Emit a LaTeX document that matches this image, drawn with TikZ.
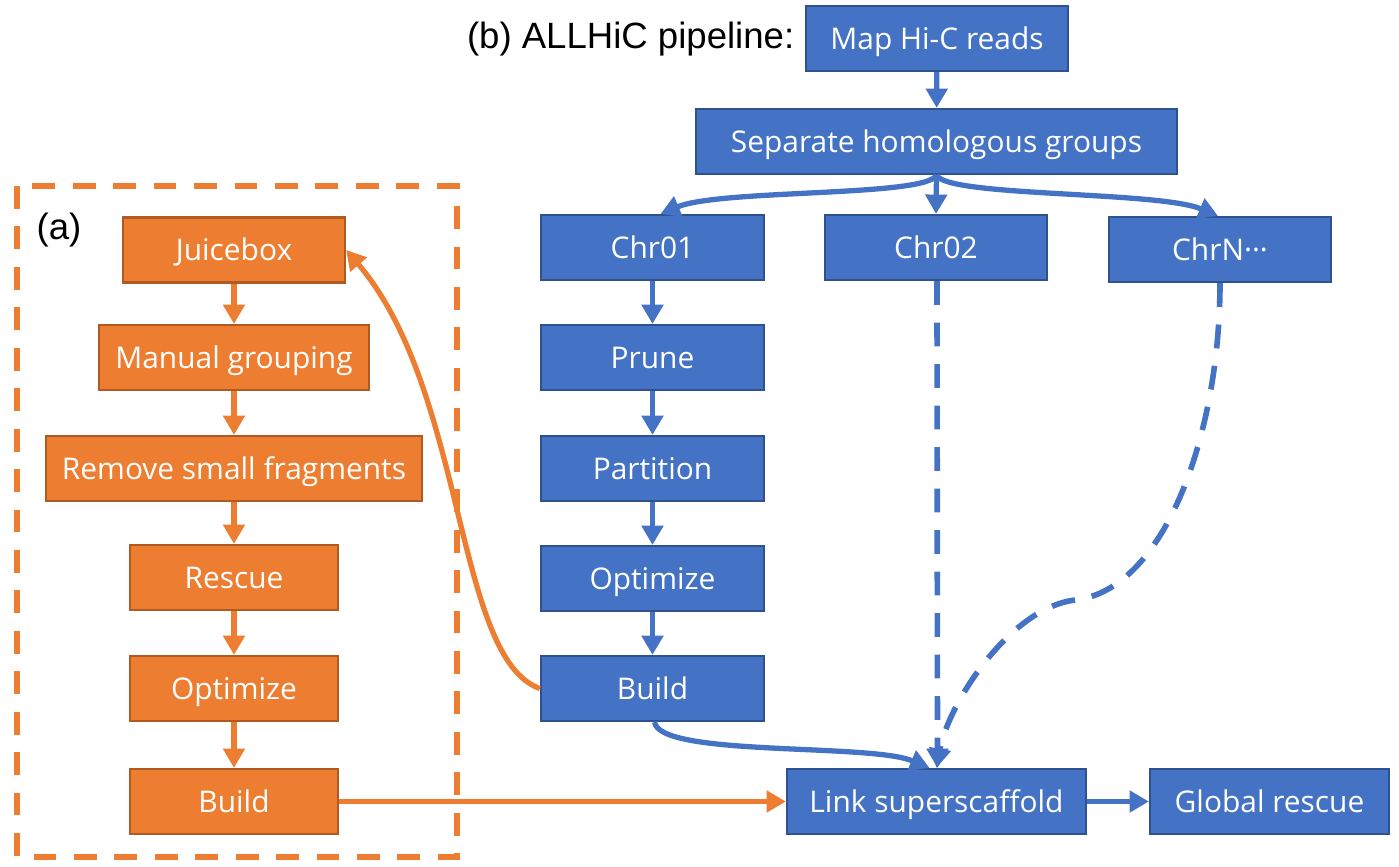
\documentclass[tikz,border=0pt]{standalone}
\usepackage{fontspec}
\setmainfont{Open Sans}
\newfontfamily\labelfont{Liberation Sans}
\usetikzlibrary{arrows.meta, positioning, calc}
\definecolor{BoxBlue}{HTML}{4472C4}
\definecolor{EdgeBlue}{HTML}{2F528F}
\definecolor{BoxOrange}{HTML}{ED7D31}
\definecolor{EdgeOrange}{HTML}{AE5A21}

\begin{document}
\begin{tikzpicture}[x=0.01cm, y=-0.01cm, >={Triangle[length=5.5pt, width=6pt]},
  bluebox/.style={draw=EdgeBlue, fill=BoxBlue, text=white, line width=0.6pt,
    minimum height=0.65cm, inner sep=0pt, text height=6.1pt, text depth=0pt,
    font=\fontsize{8.5}{10}\selectfont},
  orangebox/.style={bluebox, draw=EdgeOrange, fill=BoxOrange},
  blueflow/.style={->, draw=BoxBlue, line width=1.5pt},
  orangeflow/.style={->, draw=BoxOrange, line width=1.5pt},
  dashflow/.style={blueflow, line width=1.6pt, dash pattern=on 6.8pt off 5pt},
  headline/.style={inner sep=0pt, font=\labelfont\fontsize{10.4}{12}\selectfont}]
  \useasboundingbox (0,0) rectangle (1399,866);

  % Labels
  \node[headline, anchor=east] (btitle) at (795,39) {(b) ALLHiC pipeline:};
  \node[headline] (atitle) at (59,230) {(a)};

  % (a) frame
  \draw[BoxOrange, line width=1.7pt, dash pattern=on 6.5pt off 5pt] (17,186) rectangle (457,857);

  % ALLHiC pipeline
  \node[bluebox, minimum width=2.62cm] (map) at (937,38.5) {Map Hi-C reads};
  \node[bluebox, minimum width=4.81cm] (sep) at (936.5,141.5) {Separate homologous groups};
  \node[bluebox, minimum width=2.23cm] (chr1) at (652.5,247.5) {Chr01};
  \node[bluebox, minimum width=2.22cm] (chr2) at (936,247.5) {Chr02};
  \node[bluebox, minimum width=2.22cm] (chrn) at (1220,249.5) {ChrN\textperiodcentered\textperiodcentered\textperiodcentered};
  \node[bluebox, minimum width=2.23cm] (prune) at (652.5,357.5) {Prune};
  \node[bluebox, minimum width=2.23cm] (part) at (652.5,468.5) {Partition};
  \node[bluebox, minimum width=2.23cm] (optb) at (652.5,578.5) {Optimize};
  \node[bluebox, minimum width=2.23cm] (buildb) at (652.5,688.5) {Build};
  \node[bluebox, minimum width=2.99cm] (link) at (936.5,801.5) {Link superscaffold};
  \node[bluebox, minimum width=2.39cm] (grescue) at (1269.5,801.5) {Global rescue};

  % (a) steps
  \node[orangebox, minimum width=2.22cm] (juice) at (234,250) {Juicebox};
  \node[orangebox, minimum width=2.70cm] (manual) at (234,357.5) {Manual grouping};
  \node[orangebox, minimum width=3.76cm] (remove) at (234,468.5) {Remove small fragments};
  \node[orangebox, minimum width=2.08cm] (rescue) at (234,577.5) {Rescue};
  \node[orangebox, minimum width=2.08cm] (opta) at (234,688.5) {Optimize};
  \node[orangebox, minimum width=2.08cm] (builda) at (234,801.5) {Build};

  % Blue flow
  \draw[blueflow] (map) -- (sep);
  \draw[blueflow] (sep.south) -- (chr2.north);
  \draw[blueflow] (sep.south) .. controls +(-10,22) and +(60,-25) .. ([xshift=0.08cm]chr1.north);
  \draw[blueflow] (sep.south) .. controls +(10,22) and +(-60,-25) .. ([xshift=-0.02cm]chrn.north);
  \draw[blueflow] (chr1) -- (prune);
  \draw[blueflow] (prune) -- (part);
  \draw[blueflow] (part) -- (optb);
  \draw[blueflow] (optb) -- (buildb);
  \draw[blueflow] ([xshift=0.02cm]buildb.south) .. controls +(5,35) and +(-60,-25) .. ([xshift=-0.07cm]link.north);
  \draw[dashflow] ([xshift=0.01cm]chr2.south) -- ([xshift=0.01cm]link.north);
  \coordinate (chrnbend) at (1075,600);
  \draw[dashflow] (chrnbend) .. controls +(-65,8) and +(12,-65) .. (link.north);
  \draw[dashflow, -] (chrn.south) .. controls +(0,150) and +(90,-10) .. (chrnbend);
  \draw[blueflow] (link) -- (grescue);

  % Orange flow
  \draw[orangeflow] (juice) -- (manual);
  \draw[orangeflow] (manual) -- (remove);
  \draw[orangeflow] (remove) -- (rescue);
  \draw[orangeflow] (rescue) -- (opta);
  \draw[orangeflow] (opta) -- (builda);
  \draw[orangeflow] (builda) -- (link);
  \draw[orangeflow] (buildb.west) .. controls +(-85,-30) and +(120,140) .. (juice.east);
\end{tikzpicture}
\end{document}
